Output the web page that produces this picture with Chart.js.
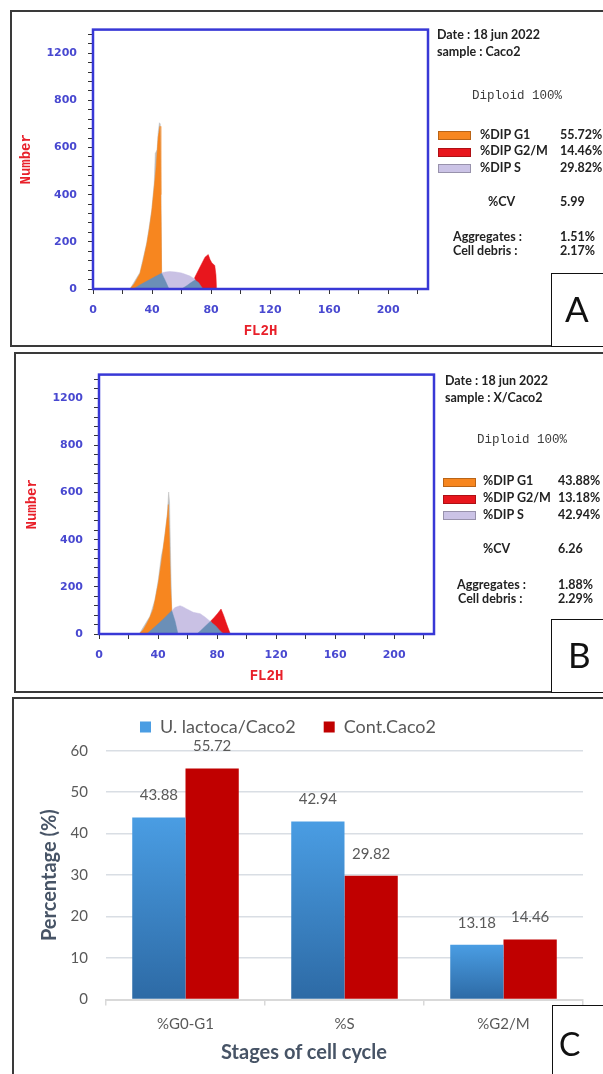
<!DOCTYPE html>
<html>
<head>
<meta charset="utf-8">
<title>Cell cycle – Caco2</title>
<script src="https://cdn.jsdelivr.net/npm/chart.js"></script>
<style>
  body { margin: 0; width: 603px; height: 1074px; overflow: hidden; background: #fff; position: relative; font-family: Lato, sans-serif; }
  canvas { position: absolute; display: block; }
  .panel { position: absolute; border: 2px solid #3a3a3a; box-sizing: border-box; pointer-events: none; }
  .tag { position: absolute; box-sizing: border-box; border: 1.5px solid #111; background: #fff; }
  .tag span { position: absolute; color: #111; font-family: Lato, sans-serif; }
  .info { position: absolute; font: bold 12.5px Lato, sans-serif; color: #222; line-height: 14px; white-space: nowrap; }
  .mono { position: absolute; font: 12.5px 'Liberation Mono', monospace; color: #3c3c3c; line-height: 14px; white-space: nowrap; }
  .swatch { position: absolute; width: 33px; height: 9px; box-sizing: border-box; border: 1px solid rgba(0,0,0,0.25); }
  .xtitle { position: absolute; left: 184px; width: 240px; top: 1039px; text-align: center; font: bold 20px Lato, sans-serif; color: #475466; line-height: 24px; }
</style>
</head>
<body>

<canvas id="histA" width="430" height="333" style="left:12px;top:12px"></canvas>
<canvas id="histB" width="430" height="333" style="left:18px;top:357px"></canvas>
<canvas id="barC" width="595" height="384" style="left:-7px;top:690px"></canvas>

<!-- panel A side text -->
<div class="info" style="left:437px;top:28px">Date : 18 jun 2022</div>
<div class="info" style="left:437px;top:45px">sample : Caco2</div>
<div class="mono" style="left:472px;top:89px">Diploid 100%</div>
<div class="swatch" style="left:438px;top:131px;background:#f7861f"></div>
<div class="swatch" style="left:438px;top:148px;background:#e8161d"></div>
<div class="swatch" style="left:438px;top:164px;background:#cbc3e6"></div>
<div class="info" style="left:480px;top:128px">%DIP G1</div>
<div class="info" style="left:480px;top:144px">%DIP G2/M</div>
<div class="info" style="left:480px;top:161px">%DIP S</div>
<div class="info" id="a-g1" style="left:560px;top:128px"></div>
<div class="info" id="a-g2" style="left:560px;top:144px"></div>
<div class="info" id="a-s" style="left:560px;top:161px"></div>
<div class="info" style="left:488px;top:195px">%CV</div>
<div class="info" id="a-cv" style="left:560px;top:195px"></div>
<div class="info" style="left:453px;top:230px">Aggregates :</div>
<div class="info" style="left:453px;top:244px">Cell debris :</div>
<div class="info" id="a-agg" style="left:560px;top:230px"></div>
<div class="info" id="a-deb" style="left:560px;top:244px"></div>

<!-- panel B side text -->
<div class="info" style="left:445px;top:374px">Date : 18 jun 2022</div>
<div class="info" style="left:445px;top:391px">sample : X/Caco2</div>
<div class="mono" style="left:477px;top:433px">Diploid 100%</div>
<div class="swatch" style="left:443px;top:478px;background:#f7861f"></div>
<div class="swatch" style="left:443px;top:495px;background:#e8161d"></div>
<div class="swatch" style="left:443px;top:511px;background:#cbc3e6"></div>
<div class="info" style="left:483px;top:474px">%DIP G1</div>
<div class="info" style="left:483px;top:491px">%DIP G2/M</div>
<div class="info" style="left:483px;top:508px">%DIP S</div>
<div class="info" id="b-g1" style="left:558px;top:474px"></div>
<div class="info" id="b-g2" style="left:558px;top:491px"></div>
<div class="info" id="b-s" style="left:558px;top:508px"></div>
<div class="info" style="left:483px;top:542px">%CV</div>
<div class="info" id="b-cv" style="left:558px;top:542px"></div>
<div class="info" style="left:457px;top:578px">Aggregates :</div>
<div class="info" style="left:458px;top:592px">Cell debris :</div>
<div class="info" id="b-agg" style="left:558px;top:578px"></div>
<div class="info" id="b-deb" style="left:558px;top:592px"></div>

<div class="xtitle" style="left:184px">Stages of cell cycle</div>

<div class="panel" style="left:10px;top:10px;width:610px;height:337px"></div>
<div class="panel" style="left:14px;top:352px;width:610px;height:341px"></div>
<div class="panel" style="left:12px;top:697px;width:610px;height:400px"></div>

<div class="tag" style="left:551px;top:273px;width:60px;height:74px"><span style="left:13px;top:14px;font-size:35px;line-height:40px">A</span></div>
<div class="tag" style="left:551px;top:619px;width:60px;height:74px"><span style="left:16px;top:14px;font-size:35px;line-height:40px">B</span></div>
<div class="tag" style="left:552px;top:1005px;width:60px;height:80px"><span style="left:6px;top:20px;font-size:32px;line-height:36px">C</span></div>

<script>
// ---- bar chart values (panel C); the same numbers appear in the A / B reports
const stages = ['%G0-G1', '%S', '%G2/M'];
const ulactoca = [43.88, 42.94, 13.18];
const control = [55.72, 29.82, 14.46];

// report values: [A = Caco2, B = X/Caco2]
const cv = [5.99, 6.26];
const aggregates = [1.51, 1.88];
const debris = [2.17, 2.29];

// histogram axis labels
const fl2hLabels = [0, 40, 80, 120, 160, 200];
const numberTickValues = [0, 200, 400, 600, 800, 1000];
const numberTickLabels = ['0', '200', '400', '600', '800', '1200'];

// histogram A (Caco2), [FL2H, count]
const aRaw = [[25,0],[31.8,70],[36.4,195],[39.8,335],[41.5,450],[42.2,575],[43.4,590],[44.2,665],[45,705],[45.6,700],[46.5,80],[47,0]];
const aG1 = [[25,0],[28,22],[31.8,65],[34,120],[36.4,190],[38.2,255],[39.8,329],[41.3,420],[42.7,510],[44.2,645],[45.4,690],[46,400],[46.5,68],[47,0]];
const aS = [[46.5,0],[46.5,68],[49,72],[52,74],[56,72],[60,68],[63.5,60],[65.7,55],[67.5,48],[69.1,42],[69.5,0]];
const aG2 = [[66,0],[69.1,51],[72.5,93],[75.9,135],[78.1,146],[79.3,125],[80.6,110],[82.5,100],[83.3,60],[83.8,0]];
const aMixL = [[27.3,0],[32,18],[37,35],[42,52],[46.5,67],[49,35],[51.5,0]];
const aMixR = [[60,0],[63.5,14],[66,25],[69.1,38],[71.5,28],[74.5,0]];

// histogram B (X/Caco2)
const bRaw = [[27.2,0],[34.5,75],[37.9,145],[40.2,230],[42.2,330],[43.4,365],[44.7,425],[46.3,510],[47.2,602],[47.8,560],[48.6,300],[49.3,99],[49.6,0]];
const bG1 = [[27.2,0],[30,18],[32.3,43],[34.5,71],[36.8,106],[38.5,160],[40.2,215],[42.5,315],[44.7,418],[46.3,500],[47,549],[47.6,420],[48.5,200],[49.3,99],[49.6,0]];
const bS = [[49.3,0],[49.3,99],[51.5,112],[54.9,120],[57,115],[59.5,106],[63.8,92],[68.6,86],[72,71],[75.4,53],[75.8,0]];
const bG2 = [[72,0],[75.4,53],[78,70],[80.5,88],[82.7,106],[84.4,80],[86.5,42],[89,0]];
const bMixL = [[32.3,0],[36,20],[40,42],[44,66],[49.3,99],[51.5,55],[53.5,0]];
const bMixR = [[66.3,0],[69,15],[72,33],[75.4,53],[79,35],[82,14],[84.4,0]];

Chart.defaults.font.family = 'Lato';

// fill in the report text
function pct(v) { return v.toFixed(2) + '%'; }
function setText(id, t) { document.getElementById(id).textContent = t; }
[['a', control, 0], ['b', ulactoca, 1]].forEach(([p, vals, i]) => {
    setText(p + '-g1', pct(vals[0]));
    setText(p + '-g2', pct(vals[2]));
    setText(p + '-s', pct(vals[1]));
    setText(p + '-cv', cv[i].toFixed(2));
    setText(p + '-agg', pct(aggregates[i]));
    setText(p + '-deb', pct(debris[i]));
});

// ---- histograms
const blue = '#4848d0';
const red = '#e8202a';

function area(points, color) {
    return {
        data: points.map(p => ({ x: p[0], y: p[1] })),
        fill: 'origin',
        backgroundColor: color,
        borderColor: color,
        borderWidth: 0.5,
        pointRadius: 0,
        tension: 0
    };
}

// blue box round the plot area
const blueFrame = {
    id: 'blueFrame',
    afterDatasetsDraw(chart) {
        const { ctx, chartArea: a } = chart;
        ctx.save();
        ctx.strokeStyle = '#3838d6';
        ctx.lineWidth = 2.5;
        ctx.strokeRect(a.left, a.top, a.right - a.left, a.bottom - a.top);
        ctx.restore();
    }
};

function histogram(id, mixL, mixR, s, g2, g1, raw) {
    const tickFont = { family: 'DejaVu Sans', size: 11, weight: 'bold' };
    const titleFont = { family: 'Liberation Mono', size: 14, weight: 'bold' };
    new Chart(document.getElementById(id), {
        type: 'line',
        data: {
            // first dataset is drawn on top
            datasets: [
                area(mixL, '#6b8fb7'),
                area(mixR, '#6b8fb7'),
                area(s, '#c9c1e4'),
                area(g2, '#e8161d'),
                area(g1, '#f7861f'),
                area(raw, '#bdbdbd')
            ]
        },
        options: {
            responsive: false,
            animation: false,
            layout: { padding: { left: 2, top: 12, right: 14, bottom: 1 } },
            plugins: { legend: { display: false }, tooltip: { enabled: false } },
            scales: {
                x: {
                    type: 'linear',
                    min: 0,
                    max: 227,
                    afterBuildTicks: scale => {
                        const t = [];
                        for (let v = 0; v <= 220; v += 20) t.push({ value: v });
                        scale.ticks = t;
                    },
                    afterFit: scale => { scale.height = 55; },
                    ticks: {
                        autoSkip: false,
                        maxRotation: 0,
                        color: blue,
                        font: tickFont,
                        padding: 10,
                        callback: v => fl2hLabels.includes(v) ? String(v) : ''
                    },
                    grid: { drawOnChartArea: false, drawTicks: true, tickLength: 5, color: '#333' },
                    border: { display: true, color: '#333', width: 1 },
                    title: { display: true, text: 'FL2H', color: red, font: titleFont, padding: { top: 4, bottom: 4 } }
                },
                y: {
                    min: 0,
                    max: 1100,
                    afterBuildTicks: scale => {
                        const t = [];
                        for (let v = 0; v <= 1080; v += 40) t.push({ value: v });
                        scale.ticks = t;
                    },
                    afterFit: scale => { scale.width = 79; },
                    ticks: {
                        autoSkip: false,
                        color: blue,
                        font: tickFont,
                        padding: 11,
                        callback: v => {
                            const i = numberTickValues.indexOf(v);
                            return i < 0 ? '' : numberTickLabels[i];
                        }
                    },
                    grid: { drawOnChartArea: false, drawTicks: true, tickLength: 5, color: '#333' },
                    border: { display: true, color: '#333', width: 1 },
                    title: { display: true, text: 'Number', color: red, font: titleFont, padding: { top: 4, bottom: 4 } }
                }
            }
        },
        plugins: [blueFrame]
    });
}

histogram('histA', aMixL, aMixR, aS, aG2, aG1, aRaw);
histogram('histB', bMixL, bMixR, bS, bG2, bG1, bRaw);

// ---- bar chart (panel C)
function blueGradient(c) {
    const chart = c.chart;
    if (!chart.chartArea || c.dataIndex === undefined) return '#3f8bd2';
    const y = chart.scales.y;
    const g = chart.ctx.createLinearGradient(0, y.getPixelForValue(c.raw), 0, y.getPixelForValue(0));
    g.addColorStop(0, '#4a9de3');
    g.addColorStop(1, '#2d6aa5');
    return g;
}

// a little more room between legend and plot
const legendGap = {
    id: 'legendGap',
    beforeInit(chart) {
        if (!chart.legend) return;
        const fit = chart.legend.fit;
        chart.legend.fit = function () {
            fit.call(this);
            this.height += 4.7;
        };
    }
};

// numbers above the bars
const valueLabels = {
    id: 'valueLabels',
    afterDatasetsDraw(chart) {
        const ctx = chart.ctx;
        ctx.save();
        ctx.font = '15px Lato';
        ctx.fillStyle = '#595959';
        ctx.textAlign = 'center';
        ctx.textBaseline = 'middle';
        chart.data.datasets.forEach((ds, i) => {
            chart.getDatasetMeta(i).data.forEach((bar, j) => {
                ctx.fillText(ds.data[j].toFixed(2), bar.x, bar.y - 22);
            });
        });
        ctx.restore();
    }
};

new Chart(document.getElementById('barC'), {
    type: 'bar',
    data: {
        labels: stages,
        datasets: [
            { label: 'U. lactoca/Caco2', data: ulactoca, backgroundColor: blueGradient },
            { label: 'Cont.Caco2', data: control, backgroundColor: '#c00000' }
        ]
    },
    options: {
        responsive: false,
        animation: false,
        layout: { padding: { left: 0, right: 5, top: 0, bottom: 0 } },
        datasets: { bar: { categoryPercentage: 0.67, barPercentage: 1 } },
        plugins: {
            legend: {
                labels: { boxWidth: 11, boxHeight: 11, padding: 28, color: '#595959', font: { size: 18 } }
            },
            tooltip: { enabled: false }
        },
        scales: {
            x: {
                afterFit: scale => { scale.height = 74.5; },
                grid: { drawOnChartArea: false, drawTicks: true, tickLength: 6, color: '#d9d9d9', lineWidth: 1.5 },
                border: { color: '#d9d9d9', width: 2 },
                ticks: { color: '#595959', font: { size: 15 }, padding: 10 }
            },
            y: {
                min: 0,
                max: 60,
                afterFit: scale => { scale.width = 113; },
                ticks: { stepSize: 10, color: '#595959', font: { size: 15 }, padding: 18 },
                grid: { color: '#d9dee4', lineWidth: 1.5, drawTicks: false },
                border: { display: false },
                title: {
                    display: true,
                    text: 'Percentage (%)',
                    color: '#475466',
                    font: { size: 20, weight: 'bold' },
                    padding: { top: 45, bottom: 4 }
                }
            }
        }
    },
    plugins: [legendGap, valueLabels]
});
</script>
</body>
</html>
